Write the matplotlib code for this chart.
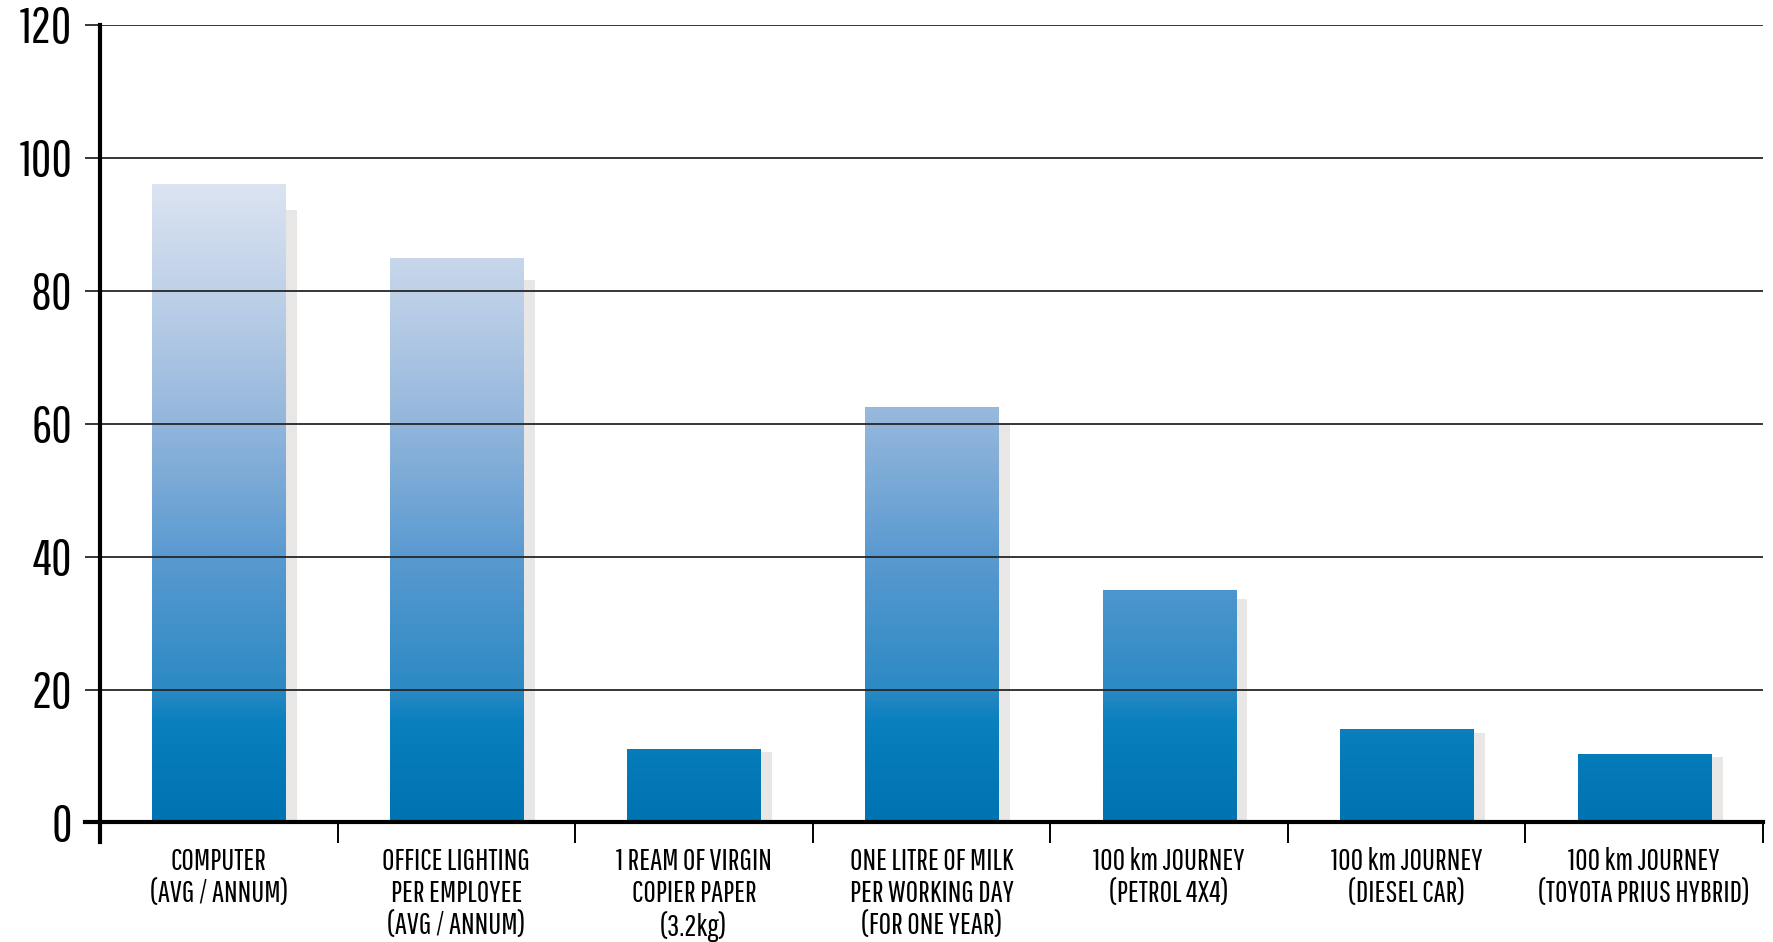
import numpy as np
import matplotlib.pyplot as plt
from matplotlib.colors import LinearSegmentedColormap

plt.rcParams['font.family'] = ['Pathway Gothic One', 'Roboto Condensed', 'DejaVu Sans']

# data
categories = [
    "COMPUTER\n(AVG / ANNUM)",
    "OFFICE LIGHTING\nPER EMPLOYEE\n(AVG / ANNUM)",
    "1 REAM OF VIRGIN\nCOPIER PAPER\n(3.2kg)",
    "ONE LITRE OF MILK\nPER WORKING DAY\n(FOR ONE YEAR)",
    "100 km JOURNEY\n(PETROL 4X4)",
    "100 km JOURNEY\n(DIESEL CAR)",
    "100 km JOURNEY\n(TOYOTA PRIUS HYBRID)",
]
values = [96, 85, 11, 62.5, 35, 14, 10.3]
yticks = [0, 20, 40, 60, 80, 100, 120]

# gradient follows the y value, not the bar
grad_stops = [(0, '#0073b2'), (15 / 120, '#0a80bf'), (20 / 120, '#2d8ac4'),
              (40 / 120, '#5a9ad0'), (60 / 120, '#93b6dc'), (80 / 120, '#bfd1e8'),
              (100 / 120, '#e2e8f4'), (1, '#eef1f8')]
cmap = LinearSegmentedColormap.from_list('bars', grad_stops)

fig = plt.figure(figsize=(17.74, 9.42), dpi=100)
ax = fig.add_axes([0.0564, 0.1269, 0.9374, 0.8466])

x = np.arange(len(values))
ymax = 120
ax.set_xlim(-0.5, len(values) - 0.5)
ax.set_ylim(0, ymax)

# shadows
ax.bar(x + 0.05, np.array(values) * 0.96, width=0.56, color='#e9e7e5', zorder=1)

# bars with gradient fill
bars = ax.bar(x, values, width=0.56, color='none', zorder=2)
grad = np.linspace(0, 1, 400).reshape(-1, 1)
for b in bars:
    im = ax.imshow(grad, cmap=cmap, origin='lower', aspect='auto',
                   extent=[-0.5, len(values) - 0.5, 0, ymax], zorder=2)
    im.set_clip_path(b)

# grid on top of bars
for v in yticks[1:]:
    ax.axhline(v, color='#262626', lw=1.3, zorder=3)

for s in ax.spines.values():
    s.set_visible(False)

# axes lines, slightly past the plot
ax.axhline(0, xmin=-15 / 1663, xmax=1, color='black', lw=3, zorder=4, clip_on=False)
ax.axvline(-0.5, ymin=-20 / 797, ymax=1, color='black', lw=3, zorder=4, clip_on=False)

ax.set_yticks(yticks)
ax.set_yticklabels([str(v) for v in yticks])
ax.tick_params(axis='y', direction='out', length=11, width=1.3, color='#262626',
               pad=9, labelsize=36)

ax.set_xticks(x)
ax.set_xticklabels(categories, fontsize=22, linespacing=1.12, va='top')
ax.tick_params(axis='x', which='major', length=0, pad=18)
ax.set_xticks(np.arange(0.5, len(values), 1), minor=True)
ax.tick_params(axis='x', which='minor', direction='out', length=15, width=1.4, color='black')

fig.savefig('out.png', dpi=100)
